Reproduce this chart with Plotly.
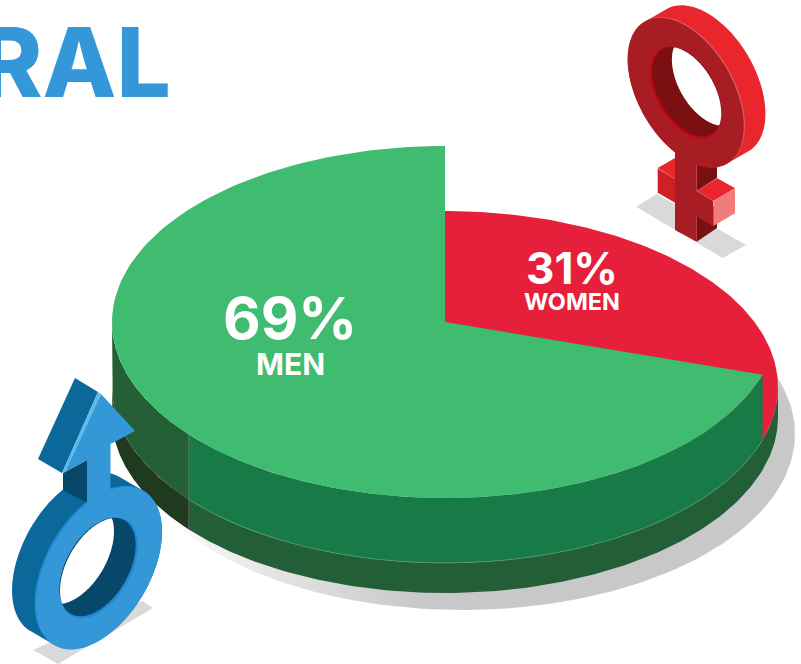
import numpy as np
import plotly.graph_objects as go

categories = ["MEN", "WOMEN"]
values = [69, 31]
colors_top = ["#3fbc70", "#e6203a"]
title_text = "RAL"

W, H = 801, 664
CX, CY, RX, RY = 445, 322, 333, 176
DROP, BASE = 65, 95
SPAN = 0.963   # foreshortening of the tilted disc
SEAM = 230.3


def rim(t_deg, cy):
    t = np.radians(t_deg)
    return CX + RX * np.sin(t), cy - RY * np.cos(t)


def arc(a, b, cy, n=160):
    return rim(np.linspace(a, b, n), cy)


split = values[1] / sum(values) * 360 * SPAN

fig = go.Figure()


def area(x, y, color, gradient=None):
    kw = dict(fillgradient=gradient) if gradient else dict(fillcolor=color)
    fig.add_trace(go.Scatter(x=list(x), y=list(y), mode="lines", fill="toself",
                             line=dict(width=0, color="rgba(0,0,0,0)"), hoverinfo="skip",
                             showlegend=False, **kw))


def band(a, b, cy0, cy1, color):
    x0, y0 = arc(a, b, cy0)
    x1, y1 = arc(b, a, cy1)
    area(np.r_[x0, x1], np.r_[y0, y1], color)


# cast shadow
sx, sy = arc(0, 360, CY + 112, 240)
area(sx + 17, sy, None, gradient=dict(type="horizontal", colorscale=[
    [0, "#ffffff"], [0.05, "#ffffff"], [0.2, "#e6e6e6"], [0.44, "#c8c8c8"], [1, "#c8c8c8"]]))

# base tier
band(90, SEAM, CY + DROP, CY + BASE, "#225f36")
band(SEAM, 270, CY + DROP, CY + BASE, "#203a20")
# women slice (lowered)
rx_, ry_ = arc(0, split, CY + DROP)
area(np.r_[CX, rx_], np.r_[CY + DROP, ry_], colors_top[1])
# upper wall
band(split, SEAM, CY, CY + DROP, "#177a47")
band(SEAM, 270, CY, CY + DROP, "#245f35")
# thin highlight where the wall meets the base tier
lx, ly = arc(split, SEAM, CY + DROP)
fig.add_trace(go.Scatter(x=list(lx), y=list(ly), mode="lines", hoverinfo="skip", showlegend=False,
                         line=dict(width=0.7, color="#5d9f78")))
# men slice
gx, gy = arc(split, 360, CY)
area(np.r_[CX, gx], np.r_[CY, gy], colors_top[0])

# ---------- isometric gender symbols (decoration) ----------
shapes = []


def poly(pts, color, layer="above"):
    d = "M" + "L".join(f"{x:.2f},{y:.2f}" for x, y in pts) + "Z"
    shapes.append(dict(type="path", path=d, fillcolor=color, line=dict(width=0),
                       xref="x", yref="y", layer=layer))


def iso(c, r, sign, n=120):
    t = np.linspace(0, 2 * np.pi, n, endpoint=False)
    return np.c_[c[0] + r * 0.866 * np.cos(t), c[1] + r * (sign * 0.5 * np.cos(t) + np.sin(t))]


def hull(p):
    p = sorted(map(tuple, p))
    def half(seq):
        out = []
        for q in seq:
            while len(out) > 1 and ((out[-1][0]-out[-2][0])*(q[1]-out[-2][1]) - (out[-1][1]-out[-2][1])*(q[0]-out[-2][0])) <= 0:
                out.pop()
            out.append(q)
        return out[:-1]
    return half(p) + half(p[::-1])


def hole_through(c0, c1, r, sign):
    a, b = iso(c0, r, sign, 240), iso(c1, r, sign, 240)
    def inside(p, c):
        dx = (p[:, 0] - c[0]) / (0.866 * r)
        dy = (p[:, 1] - c[1] - sign * 0.5 * r * dx) / r
        return dx**2 + dy**2 <= 1
    pts = np.r_[a[inside(a, c1)], b[inside(b, c0)]]
    m = pts.mean(axis=0)
    return pts[np.argsort(np.arctan2(pts[:, 1] - m[1], pts[:, 0] - m[0]))]


# male
mc, mb = (99, 568), (75, 554)
poly([(33, 650), (58, 664), (153, 608), (142, 601)], "#d9d9d9")
poly(hull(np.r_[iso(mc, 72.7, -1), iso(mb, 72.7, -1)]), "#0b689b")
poly([(63, 473), (87, 460), (87, 503), (63, 490)], "#07486a")
poly(iso((mc[0] - 1.5, mc[1] - 1), 72.7, -1), "#1f88d8")
poly(iso(mc, 72.7, -1), "#3498d8")
poly(iso(mc, 45, -1), "#1f88d8")
poly(iso((mc[0] - 1.5, mc[1] - 1), 44, -1), "#07486a")
poly(hole_through(mc, mb, 45, -1), "#ffffff")
poly([(75, 378), (98, 392), (62, 473), (38, 459)], "#0b689b")
poly([(98, 392), (101, 394), (65, 472), (62, 473)], "#5fb8e8")
poly([(101, 394), (135, 431), (110.5, 444), (110.5, 515), (87, 515), (87, 460), (65, 472)], "#3498d8")

# female
fc, fb = (685.7, 92.7), (707.4, 80.2)
poly([(636, 206.7), (656.7, 194), (746, 245), (722.7, 258)], "#d9d9d9")
poly([(696.7, 160), (717, 160), (717, 178), (696.7, 191)], "#7a1012")
poly([(696.7, 216), (717, 204), (717, 228), (696.7, 241.7)], "#7a1012")
poly(hull(np.r_[iso(fc, 67, 1), iso(fb, 67, 1)]), "#e9262b")
poly(iso((fc[0] + 1.2, fc[1] - 0.7), 67, 1), "#d85a63")
poly(iso(fc, 67, 1), "#a81c24")
poly(iso(fc, 41, 1), "#c8000f")
poly(iso((fc[0] + 1, fc[1] - 1), 40, 1), "#7a1012")
poly(hole_through(fc, fb, 41, 1), "#ffffff")
poly([(657.7, 168), (675, 158), (675, 179)], "#e9262b")
poly([(657.7, 168.5), (675, 179), (675, 202.7), (657.7, 192.7)], "#cf2027")
poly([(675, 146.7), (696.7, 146.7), (696.7, 191), (713, 201), (713, 226), (696.7, 216.7), (696.7, 241.7), (675, 230)], "#a81c24")
poly([(696.7, 191), (717.3, 178.3), (735, 188.3), (713.3, 201)], "#e9262b")
poly([(713.3, 201), (735, 188.3), (735, 213.3), (713.3, 226)], "#f27b7c")

# ---------- text ----------
white = "#ffffff"
FONT = "Inter"
anns = [
    dict(x=173, y=62, text=title_text, xanchor="right", font=dict(size=96, color="#3498d8", family=FONT, weight=800)),
    dict(x=290, y=318, text=f"{values[0]}%", font=dict(size=58, color=white, family=FONT, weight=700)),
    dict(x=290, y=364, text=categories[0], font=dict(size=30, color=white, family=FONT, weight=700)),
    dict(x=572, y=268, text=f"{values[1]}%", font=dict(size=44, color=white, family=FONT, weight=700)),
    dict(x=572, y=301, text=categories[1], font=dict(size=23.5, color=white, family=FONT, weight=700)),
]
for a in anns:
    a.update(xref="x", yref="y", showarrow=False, yanchor="middle")
    a.setdefault("xanchor", "center")

fig.update_layout(
    width=W, height=H, margin=dict(l=0, r=0, t=0, b=0),
    paper_bgcolor="white", plot_bgcolor="white", showlegend=False,
    xaxis=dict(range=[0, W], visible=False, fixedrange=True),
    yaxis=dict(range=[H, 0], visible=False, fixedrange=True),
    shapes=shapes, annotations=anns,
)
fig.write_html("out.html", config=dict(displayModeBar=False),
               post_script="document.body.style.margin='0';document.documentElement.style.overflow='hidden';")
